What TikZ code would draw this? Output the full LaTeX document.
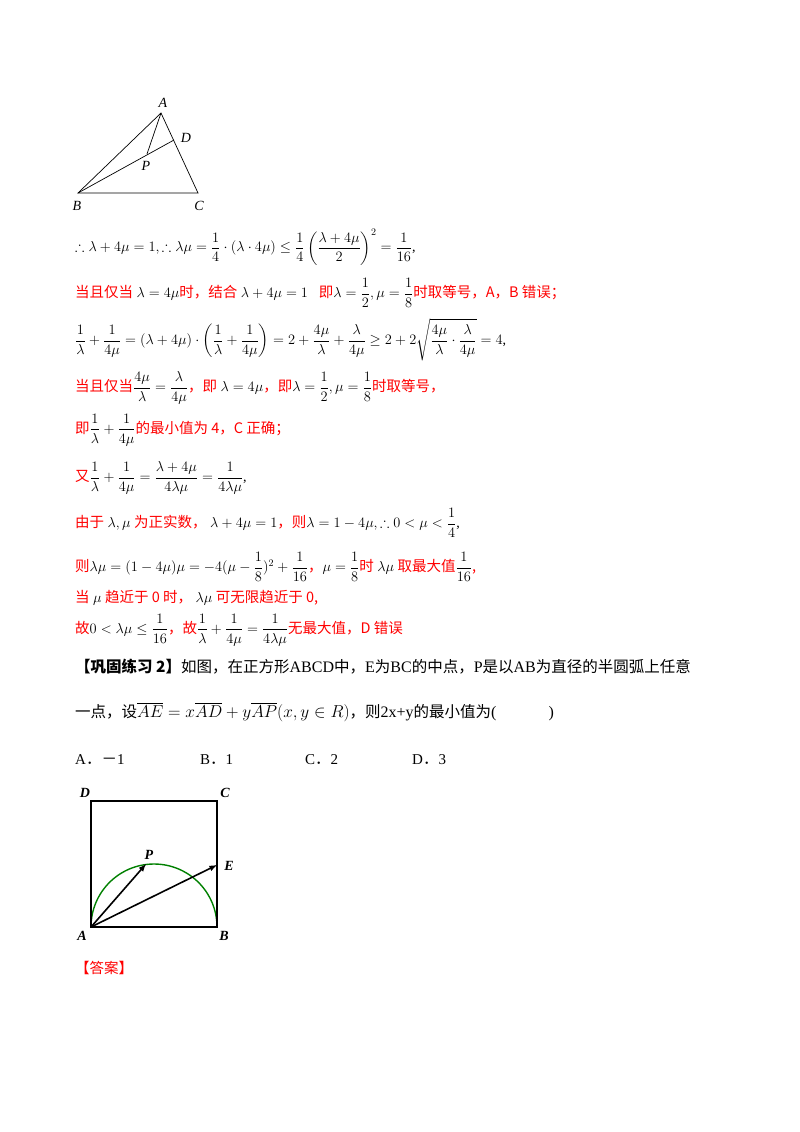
\documentclass[tikz,border=0pt]{standalone}
\usepackage{amsmath,amssymb}
\usepackage{fontspec}
\setmainfont{Liberation Serif}
\newfontfamily\cjk{Noto Sans CJK SC}
\newcommand\hr[1]{{\cjk\fontsize{14.5}{16}\selectfont\color{red}#1}}
\newcommand\hk[1]{{\cjk\fontsize{15.5}{17}\selectfont #1}}
\begin{document}
\begin{tikzpicture}[x=1pt,y=-1pt,
 t/.style={anchor=west,inner sep=0,font=\fontsize{14}{16}\selectfont},
 lb/.style={inner sep=0,font=\fontsize{14}{16}\selectfont\itshape},
 lbb/.style={inner sep=0,font=\fontsize{14}{16}\selectfont\bfseries\itshape},
 ln/.style={line width=0.7pt},
 sq/.style={line width=1.6pt},
 vec/.style={line width=1.6pt,-latex}]
\useasboundingbox (0,0) rectangle (800,1132);
% triangle
\coordinate (A) at (161,113); \coordinate (B) at (78,193); \coordinate (C) at (198,193);
\coordinate (D) at (174,140); \coordinate (P) at (147,154);
\draw[ln] (A)--(B)--(C)--cycle; \draw[ln] (B)--(D); \draw[ln] (A)--(P);
\node[lb] at (163,103) {A}; \node[lb] at (186,138) {D}; \node[lb] at (146,166) {P};
\node[lb] at (77,206) {B}; \node[lb] at (199,206) {C};
% text
\node[t] at (75,247) {$\therefore \lambda+4\mu=1,\therefore \lambda\mu=\dfrac14\cdot(\lambda\cdot4\mu)\le\dfrac14\left(\dfrac{\lambda+4\mu}{2}\right)^2=\dfrac1{16}$,};
\node[t] at (75,293) {\hr{当且仅当} $\lambda=4\mu$\hr{时，结合} $\lambda+4\mu=1$，\hr{即}$\lambda=\dfrac12,\mu=\dfrac18$\hr{时取等号，A，B 错误；}};
\node[t] at (75,340) {$\dfrac1\lambda+\dfrac1{4\mu}=(\lambda+4\mu)\cdot\left(\dfrac1\lambda+\dfrac1{4\mu}\right)=2+\dfrac{4\mu}\lambda+\dfrac\lambda{4\mu}\ge2+2\sqrt{\dfrac{4\mu}\lambda\cdot\dfrac\lambda{4\mu}}=4$,};
\node[t] at (75,388) {\hr{当且仅当}$\dfrac{4\mu}\lambda=\dfrac\lambda{4\mu}$\hr{，即} $\lambda=4\mu$\hr{，即}$\lambda=\dfrac12,\mu=\dfrac18$\hr{时取等号，}};
\node[t] at (75,430) {\hr{即}$\dfrac1\lambda+\dfrac1{4\mu}$\hr{的最小值为 4，C 正确；}};
\node[t] at (75,478) {\hr{又}$\dfrac1\lambda+\dfrac1{4\mu}=\dfrac{\lambda+4\mu}{4\lambda\mu}=\dfrac1{4\lambda\mu}$,};
\node[t] at (75,523) {\hr{由于} $\lambda,\mu$ \hr{为正实数，} $\lambda+4\mu=1$\hr{，则}$\lambda=1-4\mu,\therefore0<\mu<\dfrac14$,};
\node[t] at (75,567) {\hr{则}$\lambda\mu=(1-4\mu)\mu=-4(\mu-\dfrac18)^2+\dfrac1{16}$\hr{，}$\mu=\dfrac18$\hr{时} $\lambda\mu$ \hr{取最大值}$\dfrac1{16}$\hr{,}};
\node[t] at (75,598) {\hr{当} $\mu$ \hr{趋近于 0 时，} $\lambda\mu$ \hr{可无限趋近于 0,}};
\node[t] at (75,630) {\hr{故}$0<\lambda\mu\le\dfrac1{16}$\hr{，故}$\dfrac1\lambda+\dfrac1{4\mu}=\dfrac1{4\lambda\mu}$\hr{无最大值，D 错误}};
\node[t,font=\fontsize{16}{18}\selectfont] at (75,667) {{\cjk\fontsize{15.5}{17}\selectfont\bfseries【巩固练习 2】}\hk{如图，在正方形}ABCD\hk{中，}E\hk{为}BC\hk{的中点，}P\hk{是以}AB\hk{为直径的半圆弧上任意}};
\node[t,font=\fontsize{16}{18}\selectfont] at (75,712) {\hk{一点，设}$\overline{AE}=x\overline{AD}+y\overline{AP}(x,y\in R)$\hk{，则}2x+y\hk{的最小值为}(\qquad\quad\ )};
\node[t,font=\fontsize{15}{17}\selectfont] at (75,760) {A\hk{．－}1};
\node[t,font=\fontsize{15}{17}\selectfont] at (200,760) {B\hk{．}1};
\node[t,font=\fontsize{15}{17}\selectfont] at (305,760) {C\hk{．}2};
\node[t,font=\fontsize{15}{17}\selectfont] at (412,760) {D\hk{．}3};
\node[t] at (75,968) {\hr{【答案】}};
% square
\coordinate (SA) at (91,927); \coordinate (SB) at (217,927); \coordinate (SC) at (217,801); \coordinate (SD) at (91,801);
\coordinate (SE) at (217,865); \coordinate (SP) at (146,864);
\draw[line width=1.4pt,green!50!black] (SB) arc[start angle=0,end angle=-180,radius=63];
\draw[sq] (SA)--(SB)--(SC)--(SD)--cycle;
\draw[vec] (SA)--(SP); \draw[vec] (SA)--(SE);
\node[lbb] at (85,793) {D}; \node[lbb] at (225,793) {C}; \node[lbb] at (149,855) {P};
\node[lbb] at (229,866) {E}; \node[lbb] at (82,936) {A}; \node[lbb] at (224,936) {B};
\end{tikzpicture}
\end{document}
